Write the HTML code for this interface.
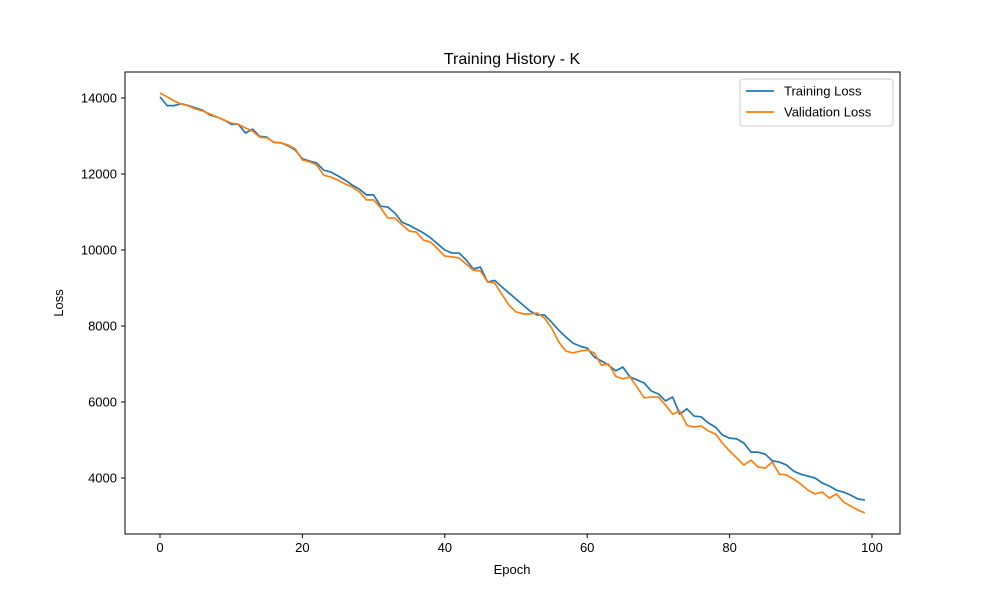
<!DOCTYPE html>
<html><head><meta charset="utf-8"><style>body{margin:0;background:#fff}svg{font-family:"Liberation Sans","DejaVu Sans",sans-serif}</style></head>
<body>
<svg id="chart" width="1000" height="600"></svg>
<script>
const epochs=[...Array(100).keys()];
const trainLoss=[14030,13800,13800,13850,13800,13740,13680,13550,13500,13420,13310,13310,13080,13180,12990,12970,12830,12820,12740,12630,12400,12340,12290,12100,12050,11950,11840,11710,11600,11450,11450,11150,11130,10970,10730,10650,10550,10450,10320,10160,10000,9920,9920,9740,9500,9550,9160,9200,9030,8870,8710,8550,8390,8290,8290,8100,7890,7710,7550,7470,7420,7180,7080,6970,6820,6920,6660,6580,6500,6290,6210,6030,6130,5680,5820,5630,5610,5450,5340,5130,5050,5030,4920,4680,4680,4630,4450,4420,4340,4180,4100,4050,4000,3870,3790,3680,3630,3550,3450,3420];
const valLoss=[14130,14030,13920,13840,13790,13710,13660,13580,13500,13420,13340,13310,13210,13130,12970,12950,12840,12820,12760,12660,12370,12320,12240,11970,11920,11840,11740,11660,11530,11320,11320,11110,10840,10840,10660,10500,10470,10260,10210,10030,9840,9820,9790,9630,9470,9450,9160,9130,8840,8550,8370,8320,8320,8340,8210,7950,7580,7340,7290,7340,7370,7290,6970,7000,6680,6610,6660,6390,6110,6130,6130,5920,5680,5760,5390,5340,5370,5240,5160,4920,4710,4530,4340,4470,4290,4260,4420,4100,4080,3970,3840,3680,3580,3630,3470,3580,3370,3260,3160,3080];
const xTicks=[0,20,40,60,80,100];
const yTicks=[4000,6000,8000,10000,12000,14000];
const NS="http://www.w3.org/2000/svg";
const svg=document.getElementById('chart');
const L=125,R=900,T=72,B=534;
const xs=v=>160+v*7.12;
const ys=v=>98+(14000-v)*0.038;
function mk(t,a,p){const e=document.createElementNS(NS,t);for(const k in a)e.setAttribute(k,a[k]);(p||svg).appendChild(e);return e;}
let e;
e=mk('rect',{x:L,y:T,width:R-L,height:B-T,fill:'none',stroke:'#000','stroke-width':1});


xTicks.forEach(t=>{
 e=mk('line',{x1:xs(t),x2:xs(t),y1:B,y2:B+4,stroke:'#000'});
 
 
 e=mk('text',{x:xs(t),y:B+18,'text-anchor':'middle','font-size':13});e.textContent=t;
 
 
});
yTicks.forEach(t=>{
 e=mk('line',{x1:L-4,x2:L,y1:ys(t),y2:ys(t),stroke:'#000'});
 
 
 e=mk('text',{x:L-8,y:ys(t)+4.5,'text-anchor':'end','font-size':13});e.textContent=t;
 
 
});
function line(data,color,name){
 const p=mk('polyline',{points:data.map((v,i)=>xs(epochs[i])+','+ys(v)).join(' '),fill:'none',stroke:color,'stroke-width':1.7,'stroke-linejoin':'round'});
 
 
}
line(trainLoss,'#1f77b4','training-loss-line');
line(valLoss,'#ff7f0e','validation-loss-line');
e=mk('text',{x:512,y:64,'text-anchor':'middle','font-size':16});e.textContent='Training History - K';


e=mk('text',{x:512,y:574,'text-anchor':'middle','font-size':13});e.textContent='Epoch';


e=mk('text',{x:63,y:303,'text-anchor':'middle','font-size':13,transform:'rotate(-90 63 303)'});e.textContent='Loss';


const g=mk('g',{});


mk('rect',{x:740,y:79,width:153,height:47,rx:3,fill:'#fff',stroke:'#ccc'},g);
[['Training Loss','#1f77b4',91],['Validation Loss','#ff7f0e',112]].forEach(([n,c,y])=>{
 const le=mk('g',{},g);
 
 
 mk('line',{x1:746,x2:774,y1:y,y2:y,stroke:c,'stroke-width':1.7},le);
 const t=mk('text',{x:784,y:y+4.5,'font-size':13},le);t.textContent=n;
});
</script>
</body></html>
